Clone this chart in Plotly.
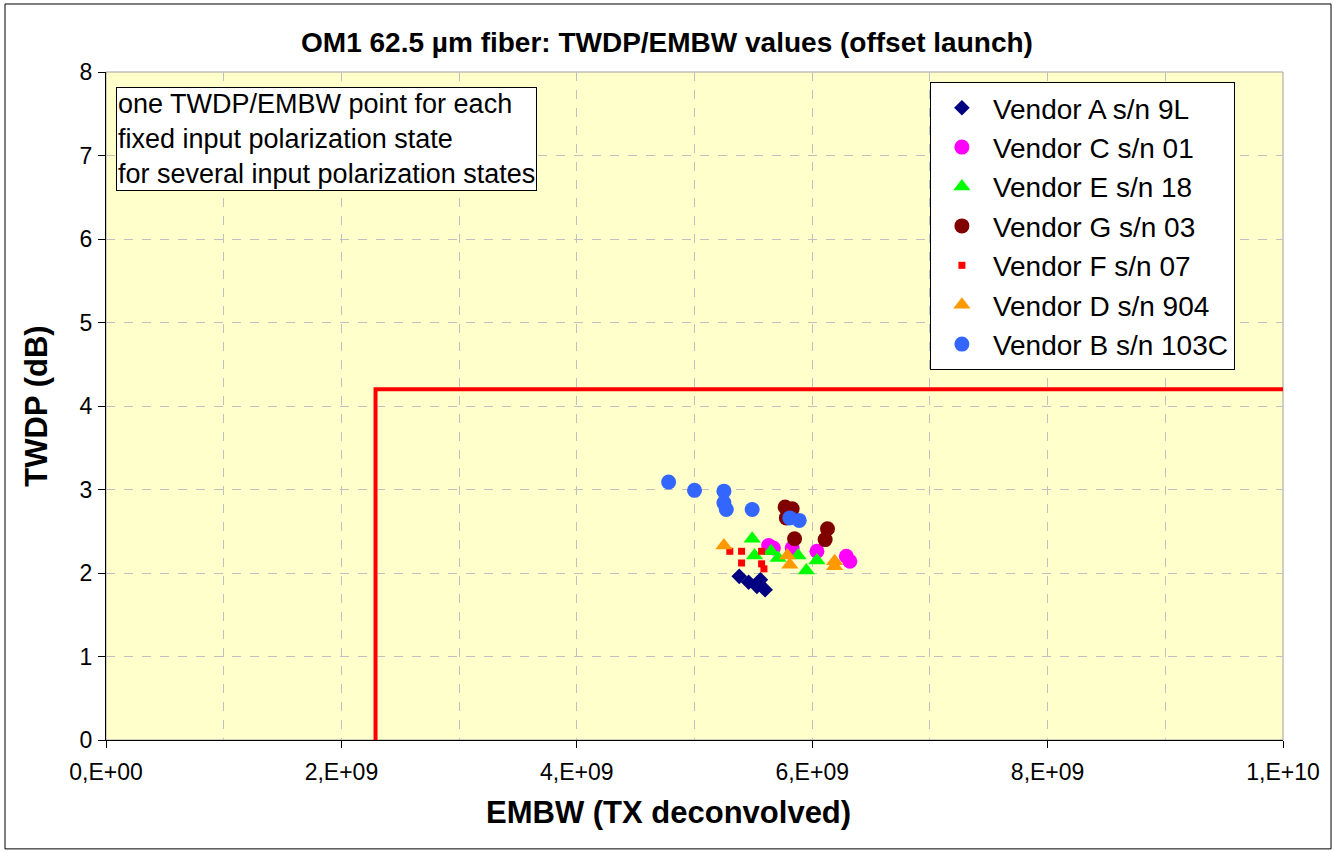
import plotly.graph_objects as go

# EMBW values in units of 1e9 Hz (scaled below), TWDP in dB
vendor_names = ["Vendor A s/n 9L", "Vendor C s/n 01", "Vendor E s/n 18", "Vendor G s/n 03",
                "Vendor F s/n 07", "Vendor D s/n 904", "Vendor B s/n 103C"]

a_embw = [5.38, 5.46, 5.56, 5.53, 5.60]
a_twdp = [1.96, 1.89, 1.92, 1.84, 1.80]

c_embw = [5.63, 5.67, 5.83, 6.04, 6.29, 6.32]
c_twdp = [2.33, 2.30, 2.30, 2.26, 2.20, 2.14]

e_embw = [5.49, 5.51, 5.65, 5.71, 5.88, 6.04, 5.95]
e_twdp = [2.41, 2.21, 2.26, 2.18, 2.21, 2.15, 2.03]

g_embw = [5.77, 5.83, 5.78, 5.85, 6.13, 6.11]
g_twdp = [2.79, 2.77, 2.66, 2.41, 2.53, 2.40]

f_embw = [5.30, 5.40, 5.40, 5.57, 5.57, 5.59]
f_twdp = [2.26, 2.26, 2.12, 2.26, 2.11, 2.05]

d_embw = [5.25, 5.79, 5.81, 6.19, 6.19]
d_twdp = [2.33, 2.21, 2.10, 2.14, 2.08]

b_embw = [4.78, 5.00, 5.25, 5.25, 5.27, 5.49, 5.81, 5.89]
b_twdp = [3.09, 2.99, 2.98, 2.84, 2.76, 2.76, 2.66, 2.63]

limit_embw = [2.29, 2.29, 10.06]
limit_twdp = [0.0, 4.2, 4.2]

x_tickvals = [0, 2e9, 4e9, 6e9, 8e9, 1e10]
x_ticktext = ["0,E+00", "2,E+09", "4,E+09", "6,E+09", "8,E+09", "1,E+10"]

series = [
    (a_embw, a_twdp, "#000080", "diamond", 12),
    (c_embw, c_twdp, "#FF00FF", "circle", 15),
    (e_embw, e_twdp, "#00FF00", "triangle-up", 15),
    (g_embw, g_twdp, "#800000", "circle", 15),
    (f_embw, f_twdp, "#FF0000", "square", 7),
    (d_embw, d_twdp, "#FF9900", "triangle-up", 15),
    (b_embw, b_twdp, "#3366FF", "circle", 15),
]

FONT = "Arial, Liberation Sans, sans-serif"

fig = go.Figure()
fig.add_trace(go.Scatter(
    x=[v * 1e9 for v in limit_embw], y=limit_twdp, mode="lines",
    line=dict(color="#FF0000", width=4), showlegend=False, hoverinfo="skip"))

for name, (xs, ys, col, sym, sz) in zip(vendor_names, series):
    fig.add_trace(go.Scatter(
        x=[v * 1e9 for v in xs], y=ys, mode="markers", name=name,
        marker=dict(color=col, symbol=sym, size=sz, line=dict(width=0)),
        cliponaxis=False))

fig.update_layout(
    width=1334, height=852,
    margin=dict(l=106, r=51, t=72, b=112),
    paper_bgcolor="white", plot_bgcolor="#FFFFCC",
    font=dict(family=FONT, color="black", size=22),
    title=dict(text="<b>OM1 62.5 µm fiber: TWDP/EMBW values (offset launch)</b>",
               x=0.5, xref="container", xanchor="center", y=0.9507, yanchor="middle",
               font=dict(size=28, family=FONT)),
    legend=dict(x=0.700, y=0.985, xanchor="left", yanchor="top",
                bgcolor="white", bordercolor="black", borderwidth=1,
                font=dict(size=28, family=FONT), tracegroupgap=0,
                itemwidth=52),
    showlegend=True,
)

fig.update_xaxes(
    range=[0, 1e10], tickmode="array", tickvals=x_tickvals, ticktext=x_ticktext,
    showgrid=True, gridcolor="#C0C0C0", griddash="dash", gridwidth=1,
    minor=dict(tickmode="linear", tick0=0, dtick=1e9, showgrid=True,
               gridcolor="#C0C0C0", griddash="dash", ticks=""),
    ticks="outside", ticklen=7, tickcolor="black", showline=True, linecolor="black",
    linewidth=1, zeroline=False, tickfont=dict(size=23), ticklabelstandoff=4,
)
fig.update_yaxes(
    range=[0, 8], dtick=1, tick0=0,
    showgrid=True, gridcolor="#C0C0C0", griddash="dash", gridwidth=1,
    ticks="outside", ticklen=7, tickcolor="black", showline=True, linecolor="black",
    linewidth=1, zeroline=False, tickfont=dict(size=23), ticklabelstandoff=1,
    title=dict(text="<b>TWDP (dB)</b>", font=dict(size=31), standoff=22),
)

# x-axis title, centred on the whole chart as in the original
fig.add_annotation(
    xref="paper", yref="paper", x=0.4775, y=-0.1078, xanchor="center", yanchor="middle",
    text="<b>EMBW (TX deconvolved)</b>", showarrow=False,
    font=dict(size=31, family=FONT, color="black"))

# annotation text box
fig.add_annotation(
    xref="paper", yref="paper", x=0.0085, y=0.9775, xanchor="left", yanchor="top",
    text="one TWDP/EMBW point for each<br>fixed input polarization state<br>for several input polarization states",
    showarrow=False, align="left", bgcolor="white", bordercolor="black", borderwidth=1,
    borderpad=1, font=dict(size=27, family=FONT, color="black"))

# plot-area frame (gray top/right edges) and outer chart border
fig.add_shape(type="rect", xref="paper", yref="paper", x0=0, x1=1, y0=0, y1=1,
              line=dict(color="#A0A0A0", width=1), layer="below")
fig.add_shape(type="rect", xref="paper", yref="paper",
              x0=-0.0858, x1=1.0408, y0=-0.163, y1=1.1018,
              line=dict(color="black", width=1), fillcolor="rgba(0,0,0,0)", layer="below")

fig.write_html("out.html", config={"displayModeBar": False},
               post_script="document.body.style.margin='0';")
